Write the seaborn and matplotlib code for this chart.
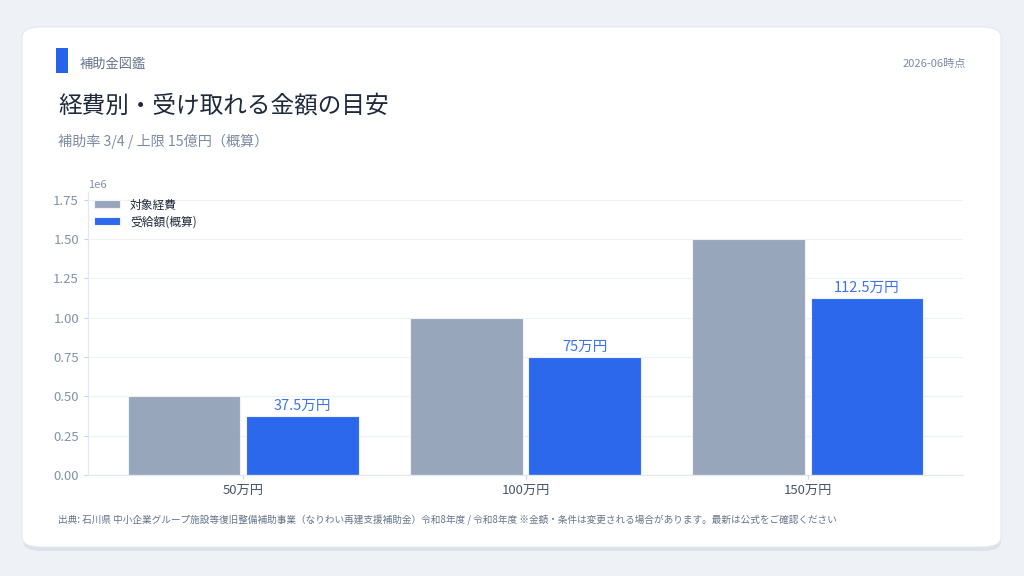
import matplotlib
matplotlib.use("Agg")
import matplotlib.pyplot as plt
from matplotlib.patches import FancyBboxPatch, Rectangle
from matplotlib.ticker import MultipleLocator
import seaborn as sns
import pandas as pd

categories = ["50万円", "100万円", "150万円"]
cost_values = [500000, 1000000, 1500000]
grant_values = [375000, 750000, 1125000]
series_names = ["対象経費", "受給額(概算)"]

sns.set_theme(style="white")
plt.rcParams["font.family"] = ["Noto Sans CJK JP", "DejaVu Sans"]

df = pd.DataFrame({
    "category": categories * 2,
    "value": cost_values + grant_values,
    "series": [series_names[0]] * 3 + [series_names[1]] * 3,
})

fig = plt.figure(figsize=(10.24, 5.76), dpi=100)
fig.patch.set_facecolor("#EEF2F7")

W, H = 1024, 576
def fx(px): return px / W
def fy(py): return 1 - py / H

# shadow + card
shadow = FancyBboxPatch((fx(23), fy(551)), fx(1001) - fx(23), fy(30) - fy(551),
                        boxstyle="round,pad=0,rounding_size=0.018",
                        transform=fig.transFigure, facecolor="#DCE2EA", edgecolor="none", zorder=-3)
card = FancyBboxPatch((fx(22), fy(547)), fx(1001) - fx(22), fy(27) - fy(547),
                      boxstyle="round,pad=0,rounding_size=0.018",
                      transform=fig.transFigure, facecolor="white", edgecolor="#E3E8EF",
                      linewidth=0.8, zorder=-2)
accent = Rectangle((fx(56), fy(73)), fx(12), fy(48) - fy(73),
                   transform=fig.transFigure, facecolor="#2563EB", edgecolor="none", zorder=-1)
fig.patches.extend([shadow, card, accent])

fig.text(fx(80), fy(64), "補助金図鑑", fontsize=9.5, color="#64748B", va="center", ha="left")
fig.text(fx(966), fy(64), "2026-06時点", fontsize=8, color="#7C8BA1", va="center", ha="right")
fig.text(fx(58), fy(106), "経費別・受け取れる金額の目安", fontsize=17, color="#1E293B", va="center", ha="left")
fig.text(fx(58), fy(141), "補助率 3/4 / 上限 15億円（概算）", fontsize=10.2, color="#7C8BA1", va="center", ha="left")
fig.text(fx(58), fy(520),
         "出典: 石川県 中小企業グループ施設等復旧整備補助事業（なりわい再建支援補助金）令和8年度 / 令和8年度 ※金額・条件は変更される場合があります。最新は公式をご確認ください",
         fontsize=6.95, color="#64748B", va="center", ha="left")

ax = fig.add_axes([fx(88), fy(475), fx(963) - fx(88), fy(192) - fy(475)])
ax.set_facecolor("none")

sns.barplot(data=df, x="category", y="value", hue="series", order=categories,
            hue_order=series_names, palette=["#94A3B8", "#2563EB"], saturation=1, ax=ax,
            width=0.84, gap=0.05, edgecolor="#F1F5F9", linewidth=0.8, alpha=0.97, zorder=2)

ax.bar_label(ax.containers[1], labels=[f"{v/1e4:g}万円" for v in grant_values],
             padding=2, color="#3B74F0", fontsize=10.5)

ax.set_xlim(-0.55, 2.55)
ax.set_ylim(0, 1.8e6)
ax.yaxis.set_major_locator(MultipleLocator(250000))
ax.set_xlabel("")
ax.set_ylabel("")
ax.yaxis.grid(True, color="#EEF1F5", linewidth=0.9, zorder=0)
ax.set_axisbelow(True)
for s in ["top", "right"]:
    ax.spines[s].set_visible(False)
for s in ["left", "bottom"]:
    ax.spines[s].set_color("#E2E8F0")
    ax.spines[s].set_linewidth(0.9)
ax.tick_params(axis="y", colors="#8391A7", labelsize=9.5, length=3, width=0.8, left=True, color="#CBD5E1")
ax.tick_params(axis="x", labelcolor="#475569", labelsize=9.5, length=3, width=0.8, bottom=True, color="#CBD5E1")
ax.yaxis.get_offset_text().set_color("#8391A7")
ax.yaxis.get_offset_text().set_fontsize(8)

leg = ax.legend(loc="upper left", frameon=False, fontsize=8.5, handlelength=2.2,
                labelspacing=0.3, borderaxespad=0.15)
for t in leg.get_texts():
    t.set_color("#1E293B")

fig.savefig("out.png", dpi=100, facecolor=fig.get_facecolor())
